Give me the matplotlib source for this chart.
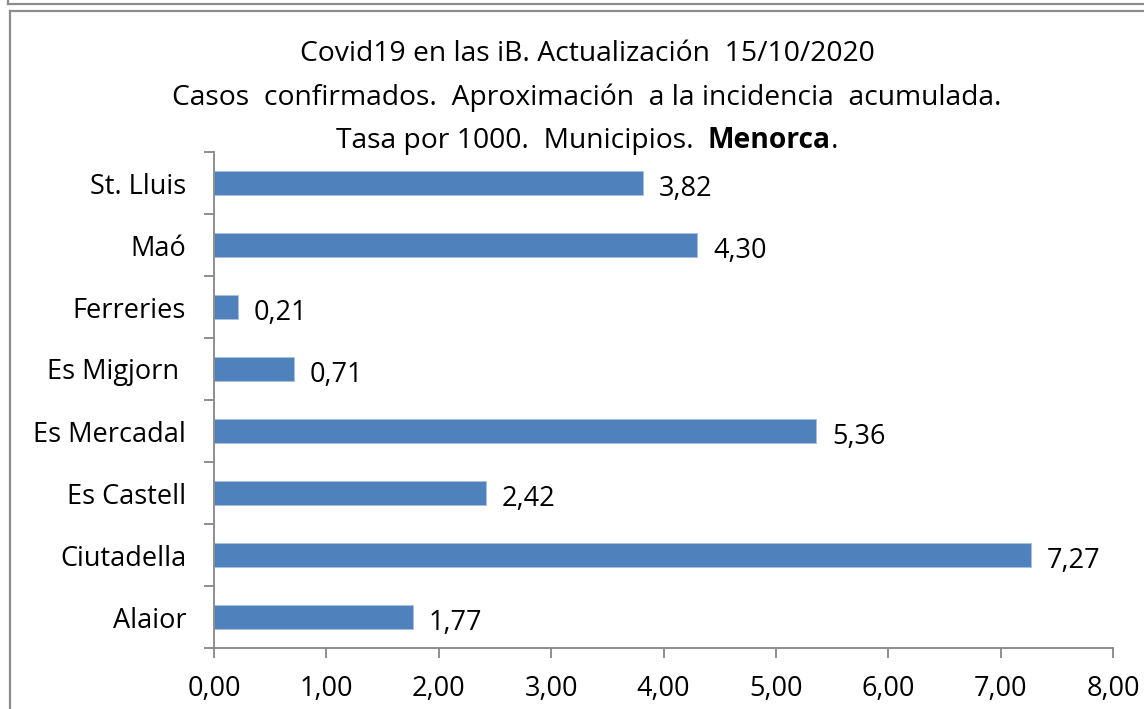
import matplotlib
matplotlib.use("Agg")
import matplotlib.pyplot as plt
from matplotlib.lines import Line2D
import numpy as np

# datos (de abajo hacia arriba, como en el gráfico)
municipios = ["Alaior", "Ciutadella", "Es Castell", "Es Mercadal",
              "Es Migjorn ", "Ferreries", "Maó", "St. Lluis"]
tasas = [1.77, 7.27, 2.42, 5.36, 0.71, 0.21, 4.30, 3.82]
xticks = [0, 1, 2, 3, 4, 5, 6, 7, 8]

titulo1 = "Covid19 en las iB. Actualización  15/10/2020"
titulo2 = "Casos  confirmados.  Aproximación  a la incidencia  acumulada."
titulo3a = "Tasa por 1000.  Municipios.  "
titulo3b = "Menorca"
titulo3c = "."

plt.rcParams['font.family'] = ['Open Sans', 'DejaVu Sans']
gris = "#868686"
azul = "#4F81BD"
fs = 19.5
fs_tit = 20.3

W, H = 1144, 709
fig = plt.figure(figsize=(W / 100, H / 100), dpi=100)

# marcos de fondo (trozo del gráfico anterior y el propio)
tf = fig.transFigure
fig.add_artist(Line2D([8 / W, 8 / W], [1, 1 - 4 / H], color="#8c8c8c", lw=1.6, transform=tf))
fig.add_artist(Line2D([8 / W, 1], [1 - 4 / H, 1 - 4 / H], color="#8c8c8c", lw=1.6, transform=tf))
fig.add_artist(Line2D([10 / W, 1], [1 - 11 / H, 1 - 11 / H], color="#8c8c8c", lw=1.6, transform=tf))
fig.add_artist(Line2D([10 / W, 10 / W], [1 - 11 / H, 0], color="#8c8c8c", lw=1.6, transform=tf))

ax = fig.add_axes([214 / W, 61 / H, (1113 - 214) / W, (648 - 152) / H])
y = np.arange(len(municipios))
ax.barh(y, tasas, height=0.4, color=azul, edgecolor="#a9c0de", linewidth=0.6, zorder=2)

for yi, v in zip(y, tasas):
    ax.text(v + 0.14, yi - 0.1, f"{v:.2f}".replace(".", ","), va="center", ha="left",
            fontsize=fs, color="black")

ax.set_xlim(0, 8)
ax.set_ylim(-0.5, len(municipios) - 0.5)
ax.set_xticks(xticks)
ax.set_xticklabels([f"{t:.2f}".replace(".", ",") for t in xticks], fontsize=fs)
ax.set_yticks(y)
ax.set_yticklabels(municipios, fontsize=fs)
ax.set_yticks(np.arange(-0.5, len(municipios)), minor=True)
ax.tick_params(axis="y", which="major", length=0, pad=20)
ax.tick_params(axis="y", which="minor", length=7, width=1.3, color=gris)
ax.tick_params(axis="x", length=7, width=1.3, color=gris, pad=12.5)

for s in ["top", "right"]:
    ax.spines[s].set_visible(False)
for s in ["left", "bottom"]:
    ax.spines[s].set_color(gris)
    ax.spines[s].set_linewidth(1.3)

# título
cx = 587 / W
fig.text(cx, 1 - 54 / H, titulo1, ha="center", va="center", fontsize=fs_tit)
fig.text(cx, 1 - 98 / H, titulo2, ha="center", va="center", fontsize=fs_tit)

fig.canvas.draw()
r = fig.canvas.get_renderer()
partes = [(titulo3a, "normal"), (titulo3b, "bold"), (titulo3c, "normal")]
objs = []
for t, w in partes:
    objs.append(fig.text(0, 1 - 141 / H, t, ha="left", va="center", fontsize=fs_tit, fontweight=w))
anchos = [o.get_window_extent(r).width for o in objs]
x0 = cx * W - sum(anchos) / 2
for o, a in zip(objs, anchos):
    o.set_x(x0 / W)
    x0 += a

fig.savefig("out.png", dpi=100)
